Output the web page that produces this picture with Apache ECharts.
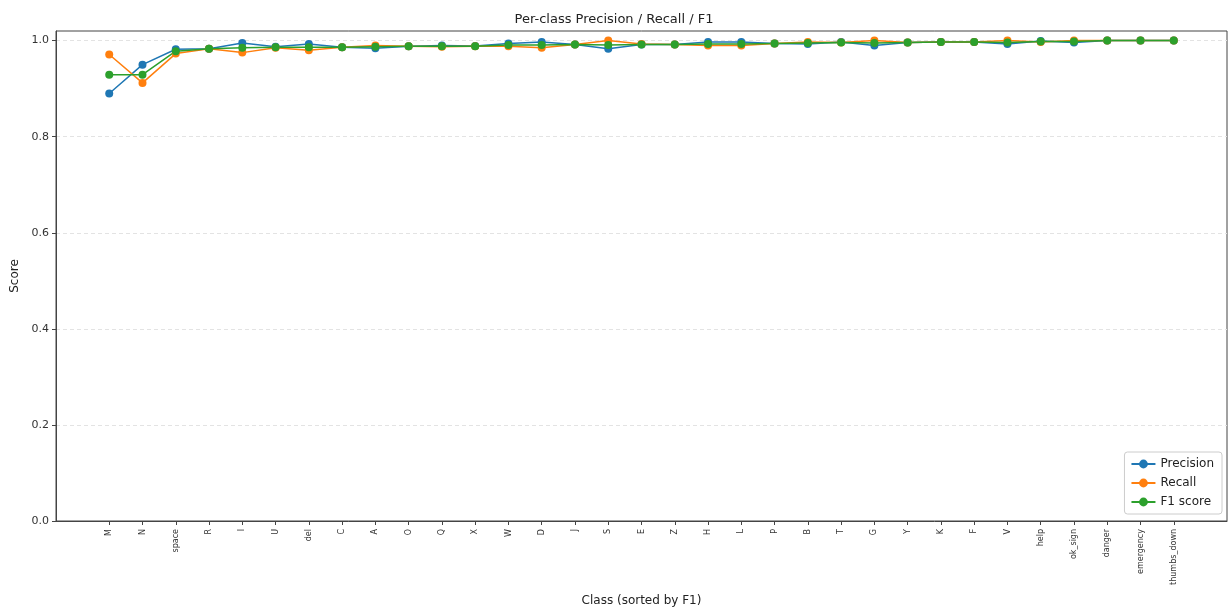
<!DOCTYPE html>
<html>
<head>
<meta charset="utf-8">
<script src="https://cdn.jsdelivr.net/npm/echarts@6/dist/echarts.min.js"></script>
<style>
  html, body { margin: 0; padding: 0; background: #fff; }
  #chart { width: 1228px; height: 609px; }
</style>
</head>
<body>
<div id="chart"></div>
<script>
// Classes, ordered by F1 score
const categories = ['M', 'N', 'space', 'R', 'I', 'U', 'del', 'C', 'A', 'O', 'Q', 'X', 'W', 'D', 'J', 'S',
  'E', 'Z', 'H', 'L', 'P', 'B', 'T', 'G', 'Y', 'K', 'F', 'V', 'help', 'ok_sign', 'danger', 'emergency', 'thumbs_down'];

const precision = [0.890, 0.950, 0.982, 0.983, 0.995, 0.987, 0.993, 0.986, 0.984, 0.988, 0.990, 0.989, 0.994, 0.997, 0.992, 0.983,
  0.992, 0.992, 0.997, 0.997, 0.994, 0.993, 0.997, 0.990, 0.996, 0.997, 0.997, 0.993, 0.999, 0.996, 1.000, 1.000, 1.000];
const recall = [0.971, 0.912, 0.973, 0.983, 0.975, 0.985, 0.980, 0.986, 0.990, 0.988, 0.987, 0.988, 0.988, 0.985, 0.992, 1.000,
  0.993, 0.992, 0.990, 0.990, 0.994, 0.997, 0.996, 1.000, 0.996, 0.997, 0.997, 1.000, 0.997, 1.000, 1.000, 1.000, 1.000];
const f1 = [0.929, 0.929, 0.978, 0.983, 0.985, 0.986, 0.986, 0.986, 0.987, 0.988, 0.988, 0.988, 0.991, 0.991, 0.992, 0.991,
  0.992, 0.992, 0.993, 0.993, 0.994, 0.995, 0.996, 0.995, 0.996, 0.997, 0.997, 0.996, 0.998, 0.998, 1.000, 1.000, 1.000];

const yTicks = [0, 0.2, 0.4, 0.6, 0.8, 1.0];
const xTicks = categories.map((_, i) => i);

const FONT = 'DejaVu Sans';
const pairs = arr => arr.map((v, i) => [i, v]);

function lineSeries(name, values, color) {
  return {
    name: name,
    type: 'line',
    data: pairs(values),
    symbol: 'circle',
    symbolSize: 8,
    showSymbol: true,
    lineStyle: { color: color, width: 1.5 },
    itemStyle: { color: color },
    emphasis: { disabled: true },
    animation: false
  };
}

const chart = echarts.init(document.getElementById('chart'), null, { renderer: 'canvas' });
chart.setOption({
  backgroundColor: '#fff',
  animation: false,
  title: {
    text: 'Per-class Precision / Recall / F1',
    left: 'center',
    top: 8,
    textStyle: { fontFamily: FONT, fontSize: 13, fontWeight: 'normal', color: '#222' }
  },
  grid: {
    left: 56, right: 1, top: 31, bottom: 88,
    containLabel: false,
    outerBoundsMode: 'none',
    show: true, borderColor: '#444', borderWidth: 1, backgroundColor: 'transparent'
  },
  legend: {
    orient: 'vertical',
    right: 6,
    bottom: 95,
    padding: [6, 8, 6, 6],
    itemWidth: 24,
    itemHeight: 11,
    itemGap: 7,
    borderColor: '#ccc',
    borderWidth: 1,
    borderRadius: 3,
    backgroundColor: '#fff',
    textStyle: { fontFamily: FONT, fontSize: 12, color: '#222' },
    data: ['Precision', 'Recall', 'F1 score']
  },
  xAxis: {
    type: 'value',
    min: -1.6,
    max: 33.6,
    name: 'Class (sorted by F1)',
    nameLocation: 'middle',
    nameGap: 74,
    nameTextStyle: { fontFamily: FONT, fontSize: 12, color: '#222' },
    axisLine: { show: true, onZero: false, lineStyle: { color: '#444' } },
    axisTick: { show: true, customValues: xTicks, length: 4, lineStyle: { color: '#444' } },
    axisLabel: {
      customValues: xTicks,
      rotate: 90,
      fontFamily: FONT,
      fontSize: 8,
      color: '#333',
      margin: 8,
      formatter: v => categories[Math.round(v)]
    },
    splitLine: { show: false }
  },
  yAxis: {
    type: 'value',
    min: 0,
    max: 1.02,
    interval: 0.2,
    name: 'Score',
    nameLocation: 'middle',
    nameGap: 35,
    nameTextStyle: { fontFamily: FONT, fontSize: 12, color: '#222' },
    axisLine: { show: true, onZero: false, lineStyle: { color: '#444' } },
    axisTick: { show: true, customValues: yTicks, length: 4, lineStyle: { color: '#444' } },
    axisLabel: {
      customValues: yTicks,
      fontFamily: FONT,
      fontSize: 11,
      color: '#333',
      margin: 7,
      formatter: v => v.toFixed(1)
    },
    splitLine: { show: true, lineStyle: { color: '#e3e3e3', type: [4, 3], width: 1 } }
  },
  series: [
    lineSeries('Precision', precision, '#1f77b4'),
    lineSeries('Recall', recall, '#ff7f0e'),
    lineSeries('F1 score', f1, '#2ca02c')
  ]
});
</script>
</body>
</html>
